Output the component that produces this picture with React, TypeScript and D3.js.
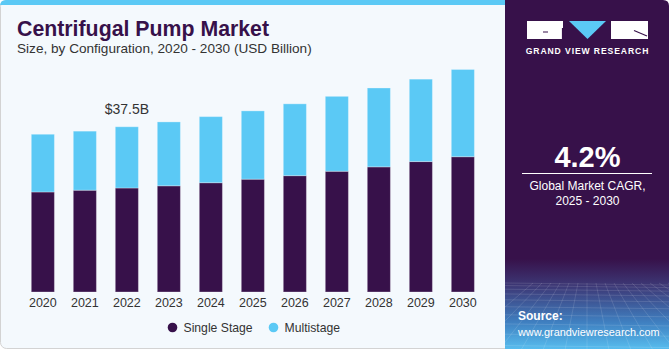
import React from 'react';
import * as d3 from 'd3';

const WIDTH = 670;
const HEIGHT = 350;

// values (USD Billion)
const years = ['2020', '2021', '2022', '2023', '2024', '2025', '2026', '2027', '2028', '2029', '2030'];
const singleStage = [22.7, 23.1, 23.6, 24.1, 24.8, 25.6, 26.4, 27.4, 28.4, 29.6, 30.7];
const multistage = [13.1, 13.4, 13.9, 14.5, 15.0, 15.5, 16.3, 17.0, 17.9, 18.7, 19.8];
const seriesNames = ['Single Stage', 'Multistage'];
const seriesColors = ['#37114a', '#5bc9f5'];
const callout = { year: '2022', label: '$37.5B' };

const font = '"Liberation Sans", Arial, sans-serif';

const App = () => {
  const x = d3
    .scaleBand<string>()
    .domain(years)
    .range([20.8, 484.9])
    .paddingInner(0.45)
    .paddingOuter(0.25);

  const y = d3.scaleLinear().domain([0, 60]).range([292, 27.6]);

  const rows = years.map((year, i) => ({ year, single: singleStage[i], multi: multistage[i] }));
  const stacked = d3.stack<any>().keys(['single', 'multi'])(rows);

  const calloutIdx = years.indexOf(callout.year);
  const calloutTop = singleStage[calloutIdx] + multistage[calloutIdx];

  return (
    <svg
      width={WIDTH}
      height={HEIGHT}
      style={{ position: 'absolute', left: 0, top: 0 }}
      fontFamily={font}
    >
      <defs>
        <linearGradient id="panelGrad" x1="0" y1="0" x2="0" y2="1">
          <stop offset="0" stopColor="#37114a" />
          <stop offset="0.74" stopColor="#37114a" />
          <stop offset="0.82" stopColor="#3d3a78" />
          <stop offset="0.92" stopColor="#3f7fc0" />
          <stop offset="1" stopColor="#58bff0" />
        </linearGradient>
        <clipPath id="panelClip">
          <path d="M505,0 H663 Q669,0 669,6 V349 H505 Z" />
        </clipPath>
      </defs>

      {/* card */}
      <rect x={0.5} y={0.5} width={520} height={348} rx={6} fill="#f4f9fd" stroke="#d3d3d3" />
      <path d="M0,6 Q0,0 6,0 H510 V5 H0 Z" fill="#5bc9f5" />

      {/* title */}
      <text x={17} y={36} fontSize={21.3} fontWeight={900} fill="#37114a">
        Centrifugal Pump Market
      </text>
      <text x={17} y={53} fontSize={13.6} fill="#333">
        Size, by Configuration, 2020 - 2030 (USD Billion)
      </text>

      {/* bars */}
      {stacked.map((s, si) => (
        <g key={s.key}>
          {s.map((d, i) => (
            <rect
              key={years[i]}
              x={x(years[i])}
              y={y(d[1])}
              width={x.bandwidth()}
              height={y(d[0]) - y(d[1])}
              fill={seriesColors[si]}
              stroke="#ffffff"
              strokeOpacity={0.3}
              strokeWidth={1}
            />
          ))}
        </g>
      ))}

      <text
        x={(x(callout.year) as number) + x.bandwidth() / 2}
        y={y(calloutTop) - 13}
        textAnchor="middle"
        fontSize={14}
        fill="#333"
      >
        {callout.label}
      </text>

      {/* x axis labels */}
      {years.map((yr) => (
        <text
          key={yr}
          x={(x(yr) as number) + x.bandwidth() / 2}
          y={306.5}
          textAnchor="middle"
          fontSize={12.5}
          fill="#333"
        >
          {yr}
        </text>
      ))}

      {/* legend */}
      {seriesNames.map((name, i) => {
        const lx = [172.5, 273.5][i];
        return (
          <g key={name}>
            <circle cx={lx} cy={327.5} r={4.8} fill={seriesColors[i]} />
            <text x={lx + 11} y={332} fontSize={12.2} fill="#333">
              {name}
            </text>
          </g>
        );
      })}

      {/* right panel */}
      <g clipPath="url(#panelClip)">
        <rect x={505} y={0} width={165} height={350} fill="url(#panelGrad)" />
        {d3.range(0, 12).map((k) => (
          <line
            key={`h${k}`}
            x1={505}
            x2={670}
            y1={283 + k * k * 0.55 + k * 2}
            y2={285 + k * k * 0.55 + k * 2}
            stroke="#ffffff"
            strokeOpacity={0.12}
          />
        ))}
        {d3.range(-6, 14).map((k) => (
          <line
            key={`v${k}`}
            x1={587 + k * 9}
            x2={587 + k * 22}
            y1={283}
            y2={350}
            stroke="#ffffff"
            strokeOpacity={0.12}
          />
        ))}
      </g>

      {/* logo */}
      <rect x={527} y={21} width={36} height={18} fill="#ffffff" />
      <path d="M543,32 H548 M562.5,28 V39" stroke="#37114a" strokeWidth={1.2} />
      <path d="M569,21 H606 L587.5,39 Z" fill="#5bc9f5" />
      <rect x={611} y={21} width={37} height={18} fill="#ffffff" />
      <path d="M634,30.5 L647,36" stroke="#37114a" strokeWidth={1.2} />
      <text
        x={587.5}
        y={54}
        textAnchor="middle"
        fontSize={8.6}
        fontWeight={700}
        letterSpacing={0.9}
        fill="#ffffff"
      >
        GRAND VIEW RESEARCH
      </text>

      {/* CAGR */}
      <text x={587.5} y={167} textAnchor="middle" fontSize={29} fontWeight={700} fill="#ffffff">
        4.2%
      </text>
      <line x1={522} x2={652} y1={173.5} y2={173.5} stroke="#ffffff" strokeWidth={1} />
      <text x={587.5} y={190} textAnchor="middle" fontSize={12} fill="#ffffff">
        Global Market CAGR,
      </text>
      <text x={587.5} y={205} textAnchor="middle" fontSize={12} fill="#ffffff">
        2025 - 2030
      </text>

      {/* source */}
      <text x={518} y={320} fontSize={12} fontWeight={700} fill="#ffffff">
        Source:
      </text>
      <text x={518} y={335.5} fontSize={10.9} fill="#ffffff">
        www.grandviewresearch.com
      </text>
    </svg>
  );
};

export default App;
